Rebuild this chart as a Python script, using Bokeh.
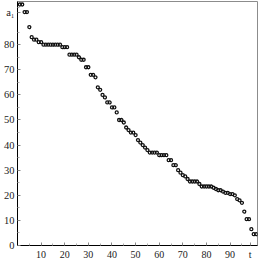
from bokeh.plotting import figure
from bokeh.models import Range1d, FixedTicker
from bokeh.embed import file_html
from bokeh.resources import INLINE

# ---- data ----
t = list(range(1, 102))
a1 = [96, 96, 93, 93, 87, 83, 82, 82, 81, 81,
      80, 80, 80, 80, 80, 80, 80, 80,
      79, 79, 79, 76, 76, 76, 76, 75, 74, 74, 71, 71,
      68, 68, 67, 63, 62, 60, 59, 57, 57, 55,
      55, 53, 50, 50, 49, 47, 46, 45, 45, 44,
      42, 41, 40, 39, 38, 37, 37, 37, 37, 36,
      36, 36, 36, 34, 34, 32, 32, 30, 29, 28,
      27.5, 26.5, 25.5, 25.5, 25.5, 25.5, 24.5, 23.5, 23.5, 23.5,
      23.5, 23.5, 23, 22.5, 22, 22, 21.5, 21, 21, 20.5,
      20.5, 20, 18.5, 18, 17, 13.5, 10.5, 10.5, 6.5, 4.5,
      4.5]

x_ticks = [10, 20, 30, 40, 50, 60, 70, 80, 90]
x_minor = [5, 15, 25, 35, 45, 55, 65, 75, 85, 95]
y_ticks = [0, 10, 20, 30, 40, 50, 60, 70, 80]
y_minor = [5, 15, 25, 35, 45, 55, 65, 75, 85, 95]
x_name = "t"
x_name_pos = 98.5
y_name = "a\u2081"
y_name_pos = 93

FONT = "Liberation Serif"

p = figure(width=260, height=262, output_backend="svg", toolbar_location=None,
           x_range=Range1d(0, 101.6), y_range=Range1d(0, 97.2),
           min_border_left=0, min_border_right=3, min_border_top=1,
           min_border_bottom=0)

p.xgrid.visible = False
p.ygrid.visible = False
p.outline_line_color = "#8c8c8c"
p.outline_line_width = 1

p.xaxis.ticker = FixedTicker(ticks=x_ticks + [x_name_pos], minor_ticks=x_minor)
p.xaxis.major_label_overrides = {x_name_pos: x_name}
p.yaxis.ticker = FixedTicker(ticks=y_ticks + [y_name_pos], minor_ticks=y_minor)
p.yaxis.major_label_overrides = {y_name_pos: y_name}

for ax in (p.xaxis[0], p.yaxis[0]):
    ax.axis_line_color = "#000000"
    ax.axis_line_width = 1
    ax.major_tick_in = 3
    ax.major_tick_out = 0
    ax.minor_tick_in = 2
    ax.minor_tick_out = 0
    ax.major_tick_line_color = "#888888"
    ax.minor_tick_line_color = "#aaaaaa"
    ax.major_label_text_font = FONT
    ax.major_label_text_font_size = "10px"
    ax.major_label_text_color = "#222222"
    ax.major_label_standoff = 3

p.yaxis.major_label_text_font_size = "10.5px"

p.scatter(t, a1, marker="circle", size=3, fill_color=None,
          line_color="#111111", line_width=1.3)

open("out.html", "w").write(file_html(p, INLINE))
